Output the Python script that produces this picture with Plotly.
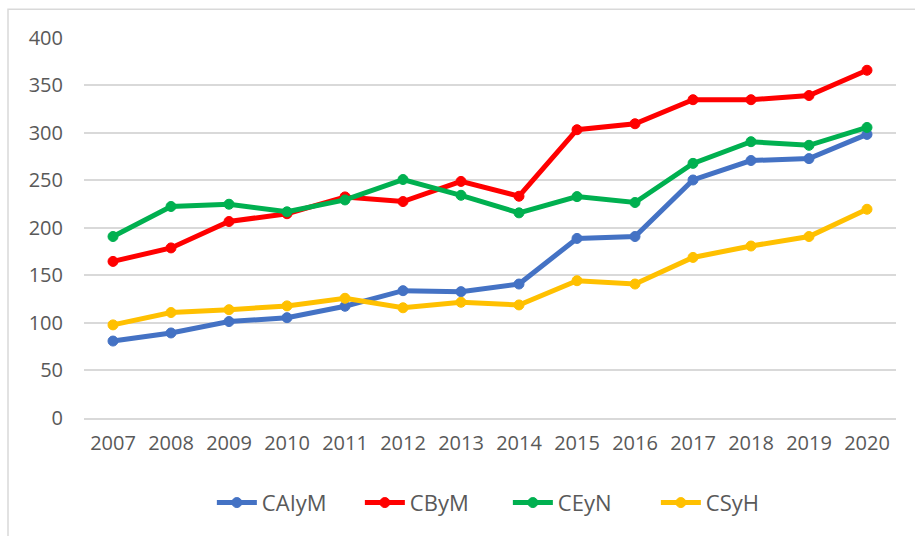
import plotly.graph_objects as go

years = ["2007", "2008", "2009", "2010", "2011", "2012", "2013",
         "2014", "2015", "2016", "2017", "2018", "2019", "2020"]

caiym = [81, 89.5, 101.5, 105.6, 117.6, 134, 133, 141, 189, 191, 250.5, 271, 273, 298.5]
cbym = [164.8, 179, 206.8, 215, 232.7, 227.8, 249, 233.4, 303.4, 309.7, 335, 335, 339.4, 366]
ceyn = [191, 222.6, 225, 217, 229.5, 251, 234.4, 215.9, 233, 226.8, 268, 290.8, 287, 305.8]
csyh = [98, 111, 114, 118, 126, 116, 121.8, 119, 144.5, 141, 169, 181, 191, 219.7]

series = [
    ("CAIyM", caiym, "#4472C4"),
    ("CByM", cbym, "#FF0000"),
    ("CEyN", ceyn, "#00B050"),
    ("CSyH", csyh, "#FFC000"),
]

fig = go.Figure()
for name, vals, col in series:
    fig.add_trace(go.Scatter(
        x=years, y=vals, name=name, mode="lines+markers",
        line=dict(color=col, width=5),
        marker=dict(color=col, size=10, line=dict(color=col, width=1)),
    ))

font = dict(family="Open Sans, Segoe UI, sans-serif", size=20, color="#595959")

fig.update_layout(
    width=915, height=536,
    margin=dict(l=84, r=19, t=37, b=116),
    plot_bgcolor="white", paper_bgcolor="white",
    font=font,
    showlegend=True,
    legend=dict(orientation="h", x=0.522, xanchor="center", y=-0.2225, yanchor="middle",
                font=dict(family="Open Sans, sans-serif", size=22, color="#595959"),
                itemwidth=40, tracegroupgap=0, entrywidth=93, entrywidthmode="pixels"),
    xaxis=dict(type="category", range=[-0.5, 13.5], showgrid=False,
               showline=True, linecolor="#D9D9D9", linewidth=1.5, automargin=False,
               ticks="", ticklabelstandoff=6, tickfont=font),
    yaxis=dict(range=[0, 401], tickvals=[0, 50, 100, 150, 200, 250, 300, 350, 400],
               showgrid=True, gridcolor="#D9D9D9", gridwidth=1.5, automargin=False,
               zeroline=False, showline=False, ticks="",
               ticklabelstandoff=20, tickfont=font),
    shapes=[dict(type="rect", xref="paper", yref="paper",
                 x0=(8 - 84) / 812, x1=1.2, y0=-0.4, y1=(420 - 9) / 383,
                 line=dict(color="#D9D9D9", width=1.5), fillcolor="rgba(0,0,0,0)",
                 layer="below")],
)

fig.write_html("out.html", config={"displayModeBar": False},
               post_script="document.body.style.margin='0px';")
